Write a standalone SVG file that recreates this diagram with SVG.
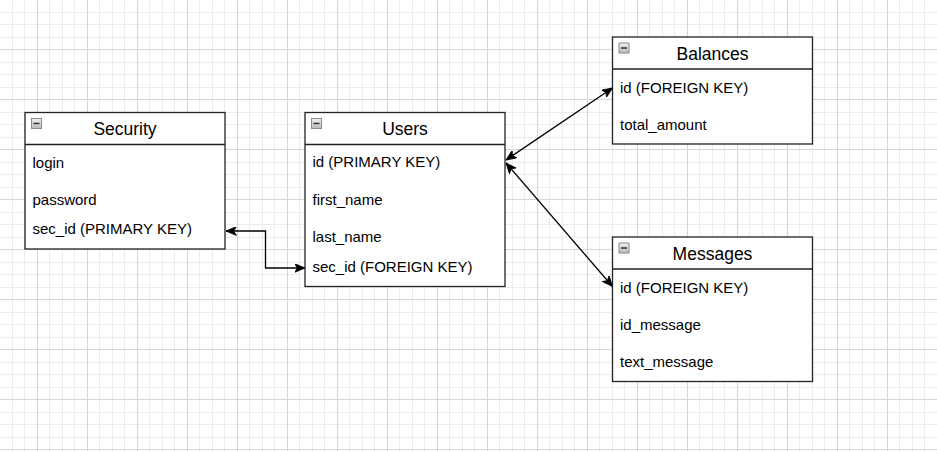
<svg xmlns="http://www.w3.org/2000/svg" width="937" height="451" viewBox="0 0 937 451">
  <style>
    .box { fill: #ffffff; stroke: #222222; stroke-width: 1.3; }
    .sep { stroke: #222222; stroke-width: 1.3; }
    .title { font-family: "Liberation Sans", Arial, sans-serif; font-size: 17.5px; fill: #000000; text-anchor: middle; }
    .row { font-family: "Liberation Sans", Arial, sans-serif; font-size: 15px; fill: #000000; }
    .icon { fill: url(#iconGrad); stroke: #8a8a8a; stroke-width: 1; }
    .minus { stroke: #333333; stroke-width: 1.5; }
    .edge { fill: none; stroke: #000000; stroke-width: 1.3; marker-start: url(#arr); marker-end: url(#arr); }
  </style>
  <defs>
    <pattern id="grid" patternUnits="userSpaceOnUse" width="50" height="50" x="-13" y="-1">
      <rect x="12" y="0" width="1" height="50" fill="#ececec"/>
      <rect x="25" y="0" width="1" height="50" fill="#ececec"/>
      <rect x="37" y="0" width="1" height="50" fill="#ececec"/>
      <rect x="0" y="13" width="50" height="1" fill="#ececec"/>
      <rect x="0" y="25" width="50" height="1" fill="#ececec"/>
      <rect x="0" y="38" width="50" height="1" fill="#ececec"/>
      <rect x="0" y="0" width="1" height="50" fill="#d6d6d6"/>
      <rect x="0" y="0" width="50" height="1" fill="#d6d6d6"/>
    </pattern>
    <linearGradient id="iconGrad" x1="0" y1="0" x2="0" y2="1">
      <stop offset="0" stop-color="#f2f2f2"/>
      <stop offset="1" stop-color="#b8b8c0"/>
    </linearGradient>
    <marker id="arr" markerUnits="userSpaceOnUse" viewBox="0 0 11 9" markerWidth="11" markerHeight="9" refX="10.5" refY="4.5" orient="auto-start-reverse">
      <path d="M0,0 L10.5,4.5 L0,9 L2.8,4.5 Z" fill="#000000" stroke="#000000" stroke-width="0.8" stroke-linejoin="miter"/>
    </marker>
  </defs>

  <rect x="0" y="0" width="937" height="451" fill="#ffffff"/>
  <rect x="0" y="0" width="937" height="451" fill="url(#grid)"/>

  <g id="connectors">
    <path class="edge" d="M226,231 H265.5 V268 H305"/>
    <path class="edge" d="M506,160 L612.5,88"/>
    <path class="edge" d="M506,163 L612.5,286.5"/>
  </g>

  <g id="security">
    <rect class="box" x="25" y="112.5" width="200" height="136.5"/>
    <line class="sep" x1="25" y1="144.5" x2="225" y2="144.5"/>
    <rect class="icon" x="31.5" y="118.5" width="10" height="10"/>
    <line class="minus" x1="33.5" y1="123.5" x2="39.5" y2="123.5"/>
    <text class="title" x="125" y="135">Security</text>
    <text class="row" x="32.5" y="167.5">login</text>
    <text class="row" x="32.5" y="204.5">password</text>
    <text class="row" x="32.5" y="233.5">sec_id (PRIMARY KEY)</text>
  </g>

  <g id="users">
    <rect class="box" x="305" y="112.5" width="200" height="174"/>
    <line class="sep" x1="305" y1="144.5" x2="505" y2="144.5"/>
    <rect class="icon" x="311.5" y="118.5" width="10" height="10"/>
    <line class="minus" x1="313.5" y1="123.5" x2="319.5" y2="123.5"/>
    <text class="title" x="405" y="135">Users</text>
    <text class="row" x="312.5" y="167">id (PRIMARY KEY)</text>
    <text class="row" x="312.5" y="204.5">first_name</text>
    <text class="row" x="312.5" y="242">last_name</text>
    <text class="row" x="312.5" y="272">sec_id (FOREIGN KEY)</text>
  </g>

  <g id="balances">
    <rect class="box" x="612.5" y="37" width="200" height="107"/>
    <line class="sep" x1="612.5" y1="69" x2="812.5" y2="69"/>
    <rect class="icon" x="619" y="43" width="10" height="10"/>
    <line class="minus" x1="621" y1="48" x2="627" y2="48"/>
    <text class="title" x="712.5" y="60">Balances</text>
    <text class="row" x="620" y="93">id (FOREIGN KEY)</text>
    <text class="row" x="620" y="129.5">total_amount</text>
  </g>

  <g id="messages">
    <rect class="box" x="612.5" y="237" width="200" height="144.5"/>
    <line class="sep" x1="612.5" y1="269" x2="812.5" y2="269"/>
    <rect class="icon" x="619" y="243" width="10" height="10"/>
    <line class="minus" x1="621" y1="248" x2="627" y2="248"/>
    <text class="title" x="712.5" y="260">Messages</text>
    <text class="row" x="620" y="293">id (FOREIGN KEY)</text>
    <text class="row" x="620" y="330">id_message</text>
    <text class="row" x="620" y="367">text_message</text>
  </g>
</svg>
